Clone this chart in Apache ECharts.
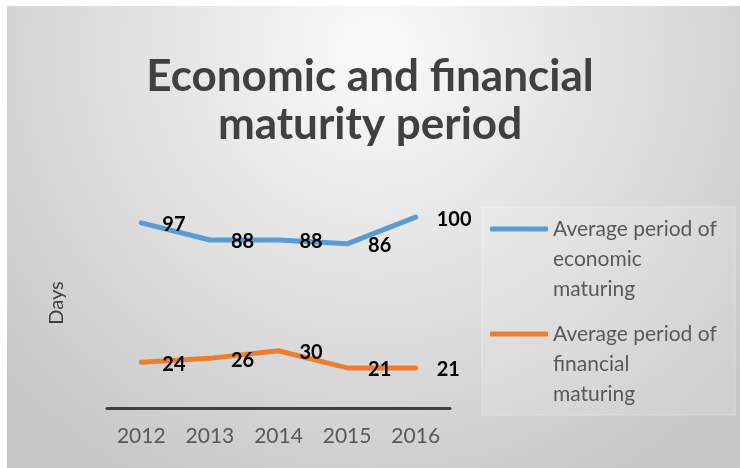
<!DOCTYPE html>
<html>
<head>
<meta charset="utf-8">
<script src="https://cdn.jsdelivr.net/npm/echarts@6/dist/echarts.min.js"></script>
<style>
html,body{margin:0;padding:0;background:#ffffff;}
#chart{width:740px;height:468px;}
</style>
</head>
<body>
<div id="chart"></div>
<script>
const titleText = 'Economic and financial\nmaturity period';
const categories = ['2012', '2013', '2014', '2015', '2016'];
const economicName = 'Average period of economic maturing';
const financialName = 'Average period of financial maturing';
const economicValues = [97, 88, 88, 86, 100];
const financialValues = [24, 26, 30, 21, 21];
const yAxisName = 'Days';
const legendLabels = {};
legendLabels[economicName] = 'Average period of\neconomic\nmaturing';
legendLabels[financialName] = 'Average period of\nfinancial\nmaturing';

const chart = echarts.init(document.getElementById('chart'));
const labelStyle = {
  show: true,
  position: 'right',
  distance: 20,
  offset: [0, 2],
  color: '#000000',
  fontFamily: 'Lato',
  fontWeight: 'bold',
  fontSize: 20
};
chart.setOption({
  animation: false,
  graphic: [
    {
      type: 'rect', z: -10, silent: true,
      shape: { x: 7, y: 6, width: 733, height: 462 },
      style: {
        fill: new echarts.graphic.RadialGradient(0.5, 0.1, 1.05, [
          { offset: 0, color: '#fbfbfb' },
          { offset: 0.45, color: '#e3e3e3' },
          { offset: 1, color: '#c8c8c8' }
        ])
      }
    },
    {
      type: 'rect', z: -9, silent: true,
      shape: { x: 482, y: 207, width: 253, height: 208 },
      style: { fill: 'rgba(255,255,255,0.15)', stroke: 'rgba(255,255,255,0.3)', lineWidth: 1 }
    }
  ],
  title: {
    text: titleText,
    left: 'center',
    top: 48,
    textStyle: {
      fontFamily: 'Lato',
      fontWeight: 'bold',
      fontSize: 44,
      lineHeight: 48,
      color: '#404040'
    }
  },
  legend: {
    orient: 'vertical',
    left: 490,
    top: 154,
    padding: 0,
    itemGap: -45,
    itemWidth: 58,
    itemHeight: 5,
    icon: 'roundRect',
    data: [economicName, financialName],
    formatter: function (name) { return '\n\n' + legendLabels[name]; },
    textStyle: {
      fontFamily: 'Lato',
      fontSize: 21,
      lineHeight: 30,
      color: '#595959'
    }
  },
  grid: { left: 107, right: 290, top: 198, bottom: 60 },
  xAxis: {
    type: 'category',
    data: categories,
    boundaryGap: true,
    axisLine: { show: true, lineStyle: { color: '#404040', width: 3 } },
    axisTick: { show: false },
    axisLabel: {
      margin: 18,
      fontFamily: 'Lato',
      fontSize: 21,
      color: '#595959'
    }
  },
  yAxis: {
    type: 'value',
    min: 0,
    max: 110,
    name: yAxisName,
    nameLocation: 'middle',
    nameGap: 40,
    nameTextStyle: { fontFamily: 'Lato', fontSize: 20, color: '#404040', padding: [0, 0, 0, 0] },
    axisLine: { show: false },
    axisTick: { show: false },
    axisLabel: { show: false },
    splitLine: { show: false }
  },
  series: [
    {
      name: economicName,
      type: 'line',
      data: economicValues,
      symbol: 'circle',
      symbolSize: 2,
      clip: false,
      itemStyle: { color: '#5b9bd5' },
      lineStyle: { color: '#5b9bd5', width: 5, cap: 'round', join: 'round' },
      label: labelStyle
    },
    {
      name: financialName,
      type: 'line',
      data: financialValues,
      symbol: 'circle',
      symbolSize: 2,
      clip: false,
      itemStyle: { color: '#ed7d31' },
      lineStyle: { color: '#ed7d31', width: 5, cap: 'round', join: 'round' },
      label: labelStyle
    }
  ]
});
</script>
</body>
</html>
